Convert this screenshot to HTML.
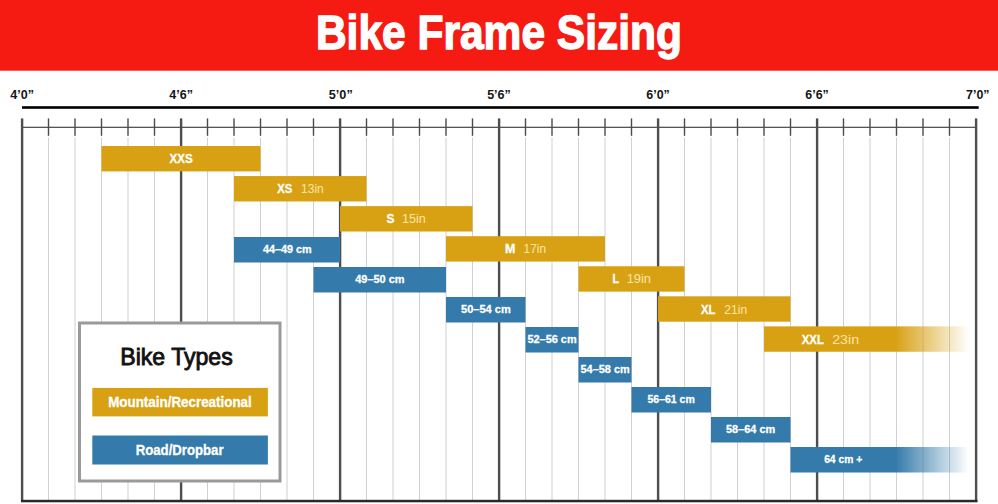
<!DOCTYPE html>
<html><head><meta charset="utf-8"><style>
html,body{margin:0;padding:0;background:#fff;width:998px;height:504px;overflow:hidden}
svg{display:block}
text{font-family:"Liberation Sans",sans-serif}
.hdr{font-size:48.5px;font-weight:bold;fill:#fff;stroke:#fff;stroke-width:1.4px}
.ax{font-size:13.3px;font-weight:bold;fill:#151515}
.bl{font-size:13.2px;font-weight:bold;fill:#fff;stroke:#fff;stroke-width:0.3px}
.th{font-size:13.2px;font-weight:normal;fill:#fbe6a4}
.cm{font-size:11.8px;font-weight:bold;fill:#fff;stroke:#fff;stroke-width:0.3px}
.lt{font-size:24.5px;fill:#111;stroke:#111;stroke-width:0.9px}
.lg{font-size:14.3px;font-weight:bold;fill:#fff;stroke:#fff;stroke-width:0.3px}
</style></head><body>
<svg width="998" height="504" viewBox="0 0 998 504">
<defs>
<linearGradient id="fg" gradientUnits="userSpaceOnUse" x1="895" y1="0" x2="969" y2="0"><stop offset="0" stop-color="#d8a114" stop-opacity="1"/><stop offset="1" stop-color="#d8a114" stop-opacity="0"/></linearGradient>
<linearGradient id="fb" gradientUnits="userSpaceOnUse" x1="895" y1="0" x2="969" y2="0"><stop offset="0" stop-color="#347aaa" stop-opacity="1"/><stop offset="1" stop-color="#347aaa" stop-opacity="0"/></linearGradient>
</defs>
<rect x="0" y="0" width="998" height="70.7" fill="#f51a12"/>
<text x="315.93" y="49.00" class="hdr" textLength="366.00" lengthAdjust="spacingAndGlyphs">Bike Frame Sizing</text>
<text x="10.31" y="99.20" class="ax" textLength="23.73" lengthAdjust="spacingAndGlyphs">4’0”</text>
<text x="169.31" y="99.20" class="ax" textLength="23.63" lengthAdjust="spacingAndGlyphs">4’6”</text>
<text x="328.82" y="99.20" class="ax" textLength="23.93" lengthAdjust="spacingAndGlyphs">5’0”</text>
<text x="487.13" y="99.20" class="ax" textLength="23.61" lengthAdjust="spacingAndGlyphs">5’6”</text>
<text x="646.33" y="99.20" class="ax" textLength="23.50" lengthAdjust="spacingAndGlyphs">6’0”</text>
<text x="805.33" y="99.20" class="ax" textLength="23.50" lengthAdjust="spacingAndGlyphs">6’6”</text>
<text x="966.07" y="99.20" class="ax" textLength="23.46" lengthAdjust="spacingAndGlyphs">7’0”</text>
<rect x="22" y="106.2" width="956.7" height="2.6" fill="#000"/>
<rect x="48.00" y="137.6" width="1" height="363" fill="#d0d0d0"/>
<rect x="74.50" y="137.6" width="1" height="363" fill="#d0d0d0"/>
<rect x="101.00" y="137.6" width="1" height="363" fill="#d0d0d0"/>
<rect x="127.50" y="137.6" width="1" height="363" fill="#d0d0d0"/>
<rect x="154.00" y="137.6" width="1" height="363" fill="#d0d0d0"/>
<rect x="207.00" y="137.6" width="1" height="363" fill="#d0d0d0"/>
<rect x="233.50" y="137.6" width="1" height="363" fill="#d0d0d0"/>
<rect x="260.00" y="137.6" width="1" height="363" fill="#d0d0d0"/>
<rect x="286.50" y="137.6" width="1" height="363" fill="#d0d0d0"/>
<rect x="313.00" y="137.6" width="1" height="363" fill="#d0d0d0"/>
<rect x="366.00" y="137.6" width="1" height="363" fill="#d0d0d0"/>
<rect x="392.50" y="137.6" width="1" height="363" fill="#d0d0d0"/>
<rect x="419.00" y="137.6" width="1" height="363" fill="#d0d0d0"/>
<rect x="445.50" y="137.6" width="1" height="363" fill="#d0d0d0"/>
<rect x="472.00" y="137.6" width="1" height="363" fill="#d0d0d0"/>
<rect x="525.00" y="137.6" width="1" height="363" fill="#d0d0d0"/>
<rect x="551.50" y="137.6" width="1" height="363" fill="#d0d0d0"/>
<rect x="578.00" y="137.6" width="1" height="363" fill="#d0d0d0"/>
<rect x="604.50" y="137.6" width="1" height="363" fill="#d0d0d0"/>
<rect x="631.00" y="137.6" width="1" height="363" fill="#d0d0d0"/>
<rect x="684.00" y="137.6" width="1" height="363" fill="#d0d0d0"/>
<rect x="710.50" y="137.6" width="1" height="363" fill="#d0d0d0"/>
<rect x="737.00" y="137.6" width="1" height="363" fill="#d0d0d0"/>
<rect x="763.50" y="137.6" width="1" height="363" fill="#d0d0d0"/>
<rect x="790.00" y="137.6" width="1" height="363" fill="#d0d0d0"/>
<rect x="843.00" y="137.6" width="1" height="363" fill="#d0d0d0"/>
<rect x="869.50" y="137.6" width="1" height="363" fill="#d0d0d0"/>
<rect x="896.00" y="137.6" width="1" height="363" fill="#d0d0d0"/>
<rect x="922.50" y="137.6" width="1" height="363" fill="#d0d0d0"/>
<rect x="949.00" y="137.6" width="1" height="363" fill="#d0d0d0"/>
<rect x="22" y="126.7" width="954" height="1.3" fill="#555"/>
<rect x="20.90" y="118.4" width="2.4" height="383" fill="#4e4e4e"/>
<rect x="47.80" y="118.4" width="1.4" height="17.4" fill="#4a4a4a"/>
<rect x="74.30" y="118.4" width="1.4" height="17.4" fill="#4a4a4a"/>
<rect x="100.80" y="118.4" width="1.4" height="17.4" fill="#4a4a4a"/>
<rect x="127.30" y="118.4" width="1.4" height="17.4" fill="#4a4a4a"/>
<rect x="153.80" y="118.4" width="1.4" height="17.4" fill="#4a4a4a"/>
<rect x="179.90" y="118.4" width="2.4" height="383" fill="#4e4e4e"/>
<rect x="206.80" y="118.4" width="1.4" height="17.4" fill="#4a4a4a"/>
<rect x="233.30" y="118.4" width="1.4" height="17.4" fill="#4a4a4a"/>
<rect x="259.80" y="118.4" width="1.4" height="17.4" fill="#4a4a4a"/>
<rect x="286.30" y="118.4" width="1.4" height="17.4" fill="#4a4a4a"/>
<rect x="312.80" y="118.4" width="1.4" height="17.4" fill="#4a4a4a"/>
<rect x="338.90" y="118.4" width="2.4" height="383" fill="#4e4e4e"/>
<rect x="365.80" y="118.4" width="1.4" height="17.4" fill="#4a4a4a"/>
<rect x="392.30" y="118.4" width="1.4" height="17.4" fill="#4a4a4a"/>
<rect x="418.80" y="118.4" width="1.4" height="17.4" fill="#4a4a4a"/>
<rect x="445.30" y="118.4" width="1.4" height="17.4" fill="#4a4a4a"/>
<rect x="471.80" y="118.4" width="1.4" height="17.4" fill="#4a4a4a"/>
<rect x="497.90" y="118.4" width="2.4" height="383" fill="#4e4e4e"/>
<rect x="524.80" y="118.4" width="1.4" height="17.4" fill="#4a4a4a"/>
<rect x="551.30" y="118.4" width="1.4" height="17.4" fill="#4a4a4a"/>
<rect x="577.80" y="118.4" width="1.4" height="17.4" fill="#4a4a4a"/>
<rect x="604.30" y="118.4" width="1.4" height="17.4" fill="#4a4a4a"/>
<rect x="630.80" y="118.4" width="1.4" height="17.4" fill="#4a4a4a"/>
<rect x="656.90" y="118.4" width="2.4" height="383" fill="#4e4e4e"/>
<rect x="683.80" y="118.4" width="1.4" height="17.4" fill="#4a4a4a"/>
<rect x="710.30" y="118.4" width="1.4" height="17.4" fill="#4a4a4a"/>
<rect x="736.80" y="118.4" width="1.4" height="17.4" fill="#4a4a4a"/>
<rect x="763.30" y="118.4" width="1.4" height="17.4" fill="#4a4a4a"/>
<rect x="789.80" y="118.4" width="1.4" height="17.4" fill="#4a4a4a"/>
<rect x="815.90" y="118.4" width="2.4" height="383" fill="#4e4e4e"/>
<rect x="842.80" y="118.4" width="1.4" height="17.4" fill="#4a4a4a"/>
<rect x="869.30" y="118.4" width="1.4" height="17.4" fill="#4a4a4a"/>
<rect x="895.80" y="118.4" width="1.4" height="17.4" fill="#4a4a4a"/>
<rect x="922.30" y="118.4" width="1.4" height="17.4" fill="#4a4a4a"/>
<rect x="948.80" y="118.4" width="1.4" height="17.4" fill="#4a4a4a"/>
<rect x="974.90" y="118.4" width="2.4" height="383" fill="#4e4e4e"/>
<rect x="21" y="499.8" width="956.5" height="2.5" fill="#2a2a2a"/>
<rect x="101.50" y="146.00" width="159.00" height="25.4" fill="#d8a114"/>
<rect x="234.00" y="176.06" width="132.50" height="25.4" fill="#d8a114"/>
<rect x="340.00" y="206.12" width="132.50" height="25.4" fill="#d8a114"/>
<rect x="446.00" y="236.18" width="159.00" height="25.4" fill="#d8a114"/>
<rect x="578.50" y="266.24" width="106.00" height="25.4" fill="#d8a114"/>
<rect x="658.00" y="296.30" width="132.50" height="25.4" fill="#d8a114"/>
<rect x="764.00" y="326.36" width="205.00" height="25.4" fill="url(#fg)"/>
<rect x="234.00" y="237.00" width="106.00" height="25.5" fill="#347aaa"/>
<rect x="313.50" y="267.00" width="132.50" height="25.5" fill="#347aaa"/>
<rect x="446.00" y="297.00" width="79.50" height="25.5" fill="#347aaa"/>
<rect x="525.50" y="327.00" width="53.00" height="25.5" fill="#347aaa"/>
<rect x="578.50" y="357.00" width="53.00" height="25.5" fill="#347aaa"/>
<rect x="631.50" y="387.00" width="79.50" height="25.5" fill="#347aaa"/>
<rect x="711.00" y="417.00" width="79.50" height="25.5" fill="#347aaa"/>
<rect x="790.50" y="447.00" width="178.50" height="25.5" fill="url(#fb)"/>
<text x="169.53" y="163.20" class="bl" textLength="23.16" lengthAdjust="spacingAndGlyphs">XXS</text>
<text x="277.24" y="193.26" class="bl" textLength="15.05" lengthAdjust="spacingAndGlyphs">XS</text>
<text x="301.10" y="193.26" class="th" textLength="22.69" lengthAdjust="spacingAndGlyphs">13in</text>
<text x="386.59" y="223.32" class="bl" textLength="7.93" lengthAdjust="spacingAndGlyphs">S</text>
<text x="402.06" y="223.32" class="th" textLength="23.77" lengthAdjust="spacingAndGlyphs">15in</text>
<text x="505.11" y="253.38" class="bl" textLength="10.39" lengthAdjust="spacingAndGlyphs">M</text>
<text x="523.61" y="253.38" class="th" textLength="22.36" lengthAdjust="spacingAndGlyphs">17in</text>
<text x="612.53" y="283.44" class="bl" textLength="6.56" lengthAdjust="spacingAndGlyphs">L</text>
<text x="626.63" y="283.44" class="th" textLength="24.42" lengthAdjust="spacingAndGlyphs">19in</text>
<text x="700.94" y="313.50" class="bl" textLength="14.46" lengthAdjust="spacingAndGlyphs">XL</text>
<text x="724.30" y="313.50" class="th" textLength="22.79" lengthAdjust="spacingAndGlyphs">21in</text>
<text x="801.64" y="343.56" class="bl" textLength="22.26" lengthAdjust="spacingAndGlyphs">XXL</text>
<text x="832.19" y="343.56" class="th" textLength="26.84" lengthAdjust="spacingAndGlyphs">23in</text>
<text x="262.99" y="253.10" class="cm" textLength="48.73" lengthAdjust="spacingAndGlyphs">44–49 cm</text>
<text x="355.19" y="283.10" class="cm" textLength="49.44" lengthAdjust="spacingAndGlyphs">49–50 cm</text>
<text x="461.02" y="313.10" class="cm" textLength="49.71" lengthAdjust="spacingAndGlyphs">50–54 cm</text>
<text x="527.42" y="343.10" class="cm" textLength="49.20" lengthAdjust="spacingAndGlyphs">52–56 cm</text>
<text x="580.52" y="373.10" class="cm" textLength="49.20" lengthAdjust="spacingAndGlyphs">54–58 cm</text>
<text x="647.54" y="403.10" class="cm" textLength="47.26" lengthAdjust="spacingAndGlyphs">56–61 cm</text>
<text x="726.02" y="433.10" class="cm" textLength="49.20" lengthAdjust="spacingAndGlyphs">58–64 cm</text>
<text x="824.16" y="463.10" class="cm" textLength="38.02" lengthAdjust="spacingAndGlyphs">64 cm +</text>
<rect x="79.5" y="323" width="200.5" height="158" fill="#fff" stroke="#9a9a9a" stroke-width="3"/>
<text x="120.24" y="365.00" class="lt" textLength="112.53" lengthAdjust="spacingAndGlyphs">Bike Types</text>
<rect x="92.3" y="387.9" width="175.6" height="28.5" fill="#d8a114"/>
<rect x="92.3" y="435.5" width="175.6" height="29" fill="#347aaa"/>
<text x="108.15" y="407.40" class="lg" textLength="143.66" lengthAdjust="spacingAndGlyphs">Mountain/Recreational</text>
<text x="135.76" y="455.40" class="lg" textLength="87.78" lengthAdjust="spacingAndGlyphs">Road/Dropbar</text>
</svg>
</body></html>
